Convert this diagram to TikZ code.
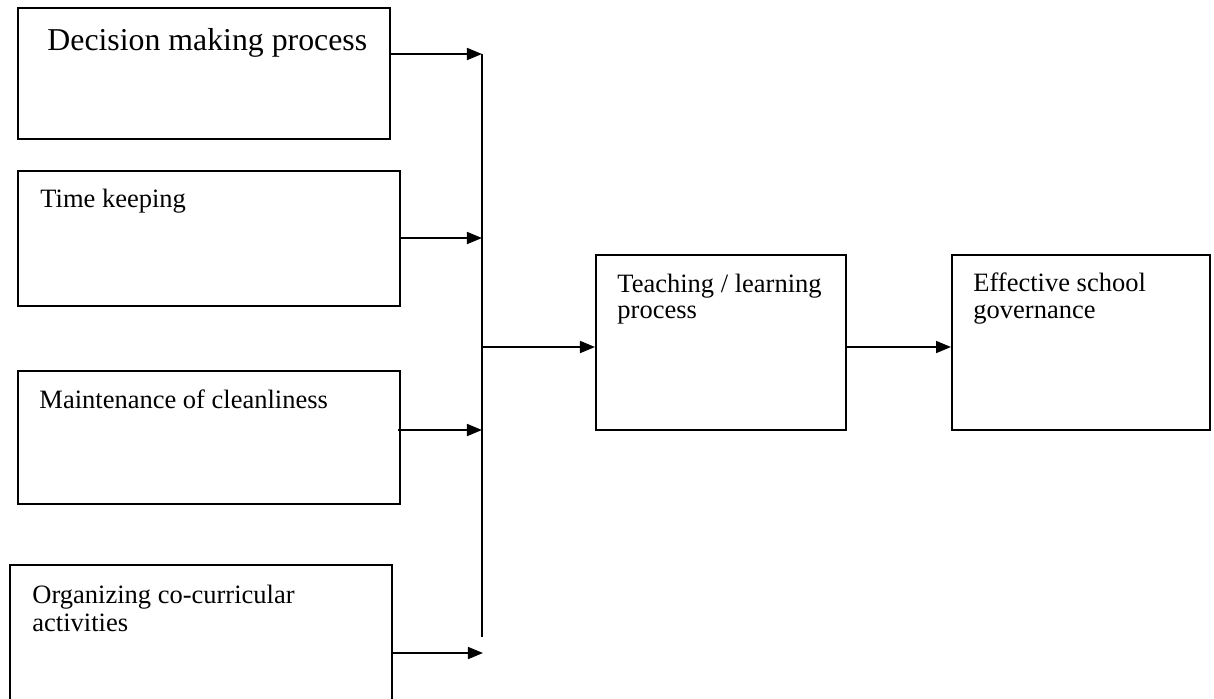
\documentclass[tikz,border=0pt]{standalone}
\usepackage{fontspec}
\setmainfont{Liberation Serif}
\usetikzlibrary{arrows.meta,fit}
\begin{document}
\begin{tikzpicture}[x=0.4528pt,y=-0.4528pt,
  box/.style={draw=black,line width=0.9pt,inner sep=0pt},
  txt/.style={anchor=base west,inner sep=0pt,font=\fontsize{12}{14}\selectfont},
  bigtxt/.style={anchor=base west,inner sep=0pt,font=\fontsize{14.4}{17}\selectfont},
  conn/.style={line width=0.85pt},
  arr/.style={line width=0.85pt,-{Triangle[length=6.8pt,width=5.4pt]}}]
\useasboundingbox (0,0) rectangle (1214,698);
% corner coordinates
\coordinate (c1a) at (18,8);   \coordinate (c1b) at (390,139);
\coordinate (c2a) at (18,171); \coordinate (c2b) at (400,306);
\coordinate (c3a) at (18,371); \coordinate (c3b) at (400,504);
\coordinate (c4a) at (10,565); \coordinate (c4b) at (392,712);
\coordinate (c5a) at (596,255); \coordinate (c5b) at (846,430);
\coordinate (c6a) at (952,255); \coordinate (c6b) at (1210,430);
% boxes
\node[box,fit=(c1a)(c1b)] (b1) {};
\node[box,fit=(c2a)(c2b)] (b2) {};
\node[box,fit=(c3a)(c3b)] (b3) {};
\node[box,fit=(c4a)(c4b)] (b4) {};
\node[box,fit=(c5a)(c5b)] (b5) {};
\node[box,fit=(c6a)(c6b)] (b6) {};
% texts
\node[bigtxt] (t1) at (47,50) {Decision making process};
\node[txt] (t2) at (40,207) {Time keeping};
\node[txt] (t3) at (39,408) {Maintenance of cleanliness};
\node[txt] (t4a) at (32,603) {Organizing co-curricular};
\node[txt] (t4b) at (32,631) {activities};
\node[txt] (t5a) at (617,292) {Teaching / learning};
\node[txt] (t5b) at (617,318) {process};
\node[txt] (t6a) at (973,291) {Effective school};
\node[txt] (t6b) at (973,318) {governance};
% junction points
\coordinate (j1) at (482,54);
\coordinate (j2) at (482,238);
\coordinate (j3) at (482,430);
\coordinate (j4) at (483,653);
\coordinate (jm) at (482,347);
\coordinate (jend) at (482,637);
% connectors
\draw[conn] (j1) -- (jend);
\draw[arr] (b1.east |- j1) -- (j1);
\draw[arr] (b2.east |- j2) -- (j2);
\draw[arr] ([xshift=-1.2pt]b3.east |- j3) -- (j3);
\draw[arr] (b4.east |- j4) -- (j4);
\draw[arr] (jm) -- (b5.west |- jm);
\draw[arr] (b5.east |- jm) -- (b6.west |- jm);
\end{tikzpicture}
\end{document}
